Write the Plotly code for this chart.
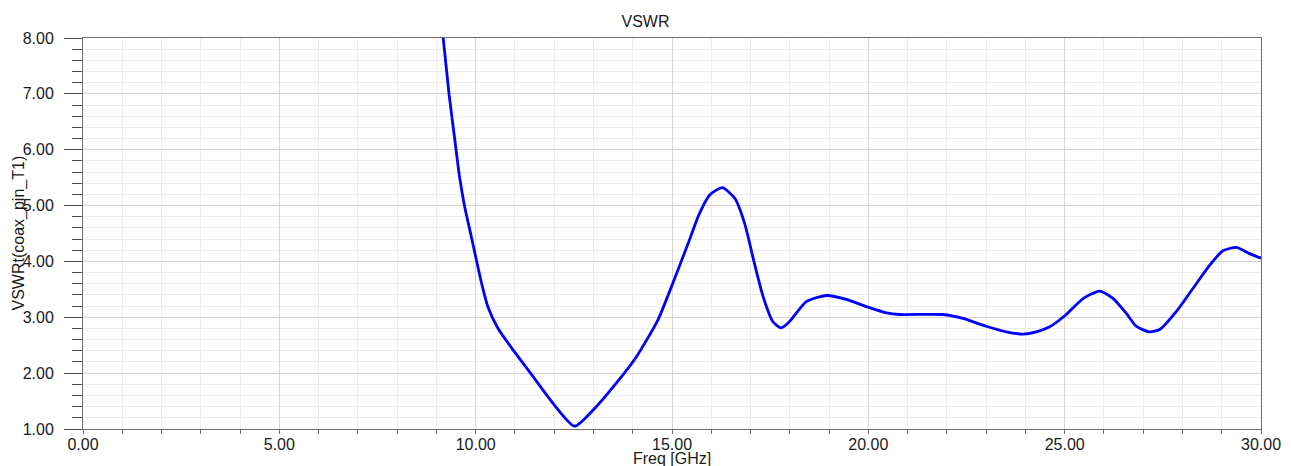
import plotly.graph_objects as go

freq = [9.12, 9.17, 9.32, 9.47, 9.59, 9.72, 9.89, 10.02, 10.15, 10.31, 10.57, 10.99, 11.46, 11.97,
        12.52, 13.07, 13.58, 14.09, 14.64, 15.02, 15.41, 15.70, 15.96, 16.28, 16.60,
        16.85, 17.10, 17.32, 17.57, 17.78, 17.99, 18.42, 18.93, 19.44, 19.95, 20.46,
        20.80, 21.90, 22.41, 23.00, 23.51, 23.94, 24.28, 24.62, 25.04, 25.46, 25.89,
        26.23, 26.57, 26.82, 27.16, 27.42, 27.84, 28.27, 28.69, 29.03, 29.37, 29.71, 30.00]
vswr = [8.30, 8.02, 7.01, 6.17, 5.51, 4.98, 4.44, 4.02, 3.61, 3.19, 2.80, 2.38, 1.94, 1.46,
        1.05, 1.40, 1.82, 2.29, 2.95, 3.61, 4.32, 4.86, 5.19, 5.32, 5.13,
        4.68, 3.96, 3.37, 2.92, 2.81, 2.92, 3.28, 3.39, 3.32, 3.19, 3.08,
        3.05, 3.05, 2.98, 2.84, 2.74, 2.70, 2.74, 2.83, 3.05, 3.33, 3.47,
        3.34, 3.07, 2.84, 2.74, 2.78, 3.10, 3.52, 3.93, 4.19, 4.25, 4.14, 4.06]

title_text = "VSWR"
x_title = "Freq [GHz]"
y_title = "VSWRt(coax_pin_T1)"

FONT = "Liberation Sans, Arial, sans-serif"

fig = go.Figure()
fig.add_trace(go.Scatter(x=freq, y=vswr, mode="lines",
                         line=dict(color="#0000ff", width=2.8, shape="spline", smoothing=0.6),
                         showlegend=False))

fig.update_layout(
    width=1291, height=466,
    margin=dict(l=83, r=30, t=38, b=37, autoexpand=False),
    paper_bgcolor="white", plot_bgcolor="white",
    font=dict(family=FONT, size=16, color="#1a1a1a"),
    title=dict(text=title_text, x=0.5, xref="container", xanchor="center",
               y=1 - 21.5 / 466, yref="container", yanchor="middle",
               font=dict(family=FONT, size=16, color="#1a1a1a")),
    xaxis=dict(range=[0, 30], dtick=5, tick0=0, tickformat=".2f", automargin=False,
               showgrid=True, gridcolor="#d4d4d4", gridwidth=1,
               showline=True, linecolor="#6e6e6e", linewidth=1, mirror=True,
               ticks="outside", ticklen=4, tickcolor="#6e6e6e",
               ticklabelstandoff=-3,
               zeroline=False,
               minor=dict(dtick=1, showgrid=True, gridcolor="#ececec",
                          ticks="outside", ticklen=4, tickcolor="#6e6e6e"),
               tickfont=dict(family=FONT, size=16, color="#1a1a1a")),
    yaxis=dict(range=[1, 8], dtick=1, tick0=0, tickformat=".2f", automargin=False,
               showgrid=True, gridcolor="#d4d4d4", gridwidth=1,
               showline=True, linecolor="#6e6e6e", linewidth=1, mirror=True,
               ticks="outside", ticklen=18, tickcolor="#4a4a4a",
               ticklabelstandoff=7,
               zeroline=False,
               minor=dict(dtick=0.2, showgrid=True, gridcolor="#ececec",
                          ticks="outside", ticklen=10, tickcolor="#4a4a4a"),
               tickfont=dict(family=FONT, size=16, color="#1a1a1a")),
    annotations=[
        dict(text=x_title, xref="paper", yref="paper", x=0.5, y=0,
             xanchor="center", yanchor="middle", yshift=-29, showarrow=False,
             font=dict(family=FONT, size=16, color="#1a1a1a")),
        dict(text=y_title, xref="paper", yref="paper", x=0, y=0.5,
             xanchor="center", yanchor="middle", xshift=-65, textangle=-90,
             showarrow=False, font=dict(family=FONT, size=16, color="#1a1a1a")),
    ],
)

fig.write_html("out.html",
               config={"displayModeBar": False},
               post_script="document.body.style.margin='0';document.body.style.overflow='hidden';")
